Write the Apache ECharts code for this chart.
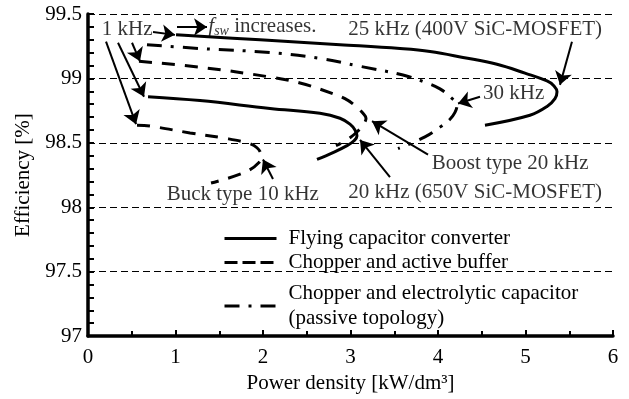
<!DOCTYPE html>
<html>
<head>
<meta charset="utf-8">
<script src="https://cdn.jsdelivr.net/npm/echarts@6/dist/echarts.min.js"></script>
<style>
html,body{margin:0;padding:0;background:#fff;}
#chart{width:629px;height:399px;}
</style>
</head>
<body>
<div id="chart"></div>
<script>
// ---- Data (x: power density kW/dm3, y: efficiency %) ----
const xTickLabels = ['0','1','2','3','4','5','6'];
const yTickLabels = ['97','97.5','98','98.5','99','99.5'];

const fc400X = [1.006,1.966,2.88,3.566,3.909,4.286,4.674,4.994,5.246,5.326,5.36,5.337,5.246,5.051,4.537];
const fc400Y = [99.338,99.30,99.262,99.232,99.209,99.163,99.11,99.041,98.98,98.942,98.896,98.843,98.782,98.714,98.637];

const fc650X = [0.686,1.28,2.08,2.651,2.88,2.994,3.051,3.074,3.04,2.96,2.8,2.617];
const fc650Y = [98.858,98.828,98.767,98.729,98.691,98.645,98.60,98.554,98.516,98.478,98.424,98.371];

const boostX = [0.583,1.28,2.08,2.423,2.8,2.937,3.051,3.143,3.177,3.143,3.086,2.96,2.834];
const boostY = [99.133,99.087,99.011,98.965,98.881,98.843,98.79,98.729,98.691,98.637,98.592,98.523,98.478];

const buckX = [0.56,0.709,1.166,1.543,1.817,1.931,1.977,1.954,1.794,1.406];
const buckY = [98.637,98.63,98.577,98.538,98.50,98.462,98.401,98.348,98.272,98.188];

const passiveX = [0.674,1.28,2.08,2.651,3.109,3.6,3.874,4.023,4.137,4.217,4.194,4.137,4.023,3.851,3.543];
const passiveY = [99.262,99.232,99.201,99.155,99.094,99.026,98.965,98.919,98.858,98.79,98.736,98.683,98.622,98.546,98.455];

const nameFC = 'Flying capacitor converter';
const nameAB = 'Chopper and active buffer';
const namePS = 'Chopper and electrolytic capacitor (passive topology)';

// annotation texts (left edge x, middle y in data units)
const noteTexts = ['1 kHz','fsw','25 kHz (400V SiC-MOSFET)','30 kHz','Boost type 20 kHz','20 kHz (650V SiC-MOSFET)','Buck type 10 kHz'];
const noteX = [0.157,1.375,2.975,4.514,3.928,2.975,0.899];
const noteY = [99.376,99.405,99.376,98.88,98.34,98.115,98.097];

// arrows: from (x1,y1) to (x2,y2) in data units
const arrowX1 = [0.743,1.017,0.206,0.343,0.503,5.531,4.48,3.886,3.451,2.114];
const arrowY1 = [99.361,99.399,99.285,99.277,99.277,99.285,98.858,98.409,98.234,98.219];
const arrowX2 = [0.994,1.36,0.549,0.64,0.594,5.394,4.229,3.246,3.109,2.0];
const arrowY2 = [99.338,99.399,98.645,98.858,99.133,98.95,98.805,98.668,98.523,98.371];

// ---- Build ----
const FONT = "'Liberation Serif', 'Times New Roman', serif";
const FS = 21;
const zip = (xs, ys) => xs.map((x, i) => [x, ys[i]]);
const dashAB = [13, 10];
const dashPS = [15, 9, 3, 9];

function curve(name, xs, ys, type) {
  return {
    name: name, type: 'line', data: zip(xs, ys), smooth: 0.4,
    symbol: 'none', showSymbol: false, silent: true, z: 3,
    lineStyle: { color: '#000', width: 3, type: type },
    itemStyle: { color: '#000' }
  };
}

const chart = echarts.init(document.getElementById('chart'), null, { renderer: 'canvas' });

const noteData = noteTexts.map((t, i) => {
  const item = { value: [noteX[i], noteY[i]], name: t };
  if (t === 'fsw') {
    item.label = { formatter: '{i|f}{s|sw}{n| increases.}' };
  }
  return item;
});

const arrowData = arrowX1.map((x, i) => ({ coords: [[x, arrowY1[i]], [arrowX2[i], arrowY2[i]]] }));

const legendBase = {
  orient: 'vertical', left: 218, itemWidth: 52, itemHeight: 14,
  selectedMode: false,
  itemStyle: { opacity: 0, color: 'transparent', borderColor: 'transparent', borderWidth: 0 },
  lineStyle: { width: 3, color: '#000' },
  textStyle: { fontFamily: FONT, fontSize: FS, color: '#000', lineHeight: 25, padding: [0, 0, 0, 7] }
};

chart.setOption({
  animation: false,
  backgroundColor: '#fff',
  textStyle: { fontFamily: FONT, color: '#000' },
  grid: { left: 88, right: 16, top: 14, bottom: 57, containLabel: false },
  xAxis: {
    type: 'value', min: 0, max: 6, interval: 1,
    name: 'Power density [kW/dm³]', nameLocation: 'middle', nameGap: 36,
    nameTextStyle: { fontFamily: FONT, fontSize: FS, color: '#000' },
    axisLine: { onZero: false, lineStyle: { color: '#000', width: 3.5 } },
    axisTick: { inside: true, length: 6, lineStyle: { color: '#000', width: 2 } },
    minorTick: { show: true, splitNumber: 2, length: 5, lineStyle: { color: '#000', width: 2 } },
    axisLabel: { margin: 11, fontFamily: FONT, fontSize: FS, color: '#000',
      formatter: v => xTickLabels[Math.round(v)] },
    splitLine: { show: false }
  },
  yAxis: {
    type: 'value', min: 97, max: 99.5, interval: 0.5,
    name: 'Efficiency [%]', nameLocation: 'middle', nameGap: 41,
    nameTextStyle: { fontFamily: FONT, fontSize: FS, color: '#000' },
    axisLine: { show: true, onZero: false, lineStyle: { color: '#000', width: 3.5 } },
    axisTick: { inside: true, length: 6, lineStyle: { color: '#000', width: 2 } },
    minorTick: { show: true, splitNumber: 5, length: 6, lineStyle: { color: '#000', width: 2 } },
    axisLabel: { margin: 6, fontFamily: FONT, fontSize: FS, color: '#000',
      formatter: v => yTickLabels[Math.round((v - 97) / 0.5)] },
    splitLine: { show: true, lineStyle: { color: '#000', width: 1, type: [7, 4] } }
  },
  legend: [
    Object.assign({}, legendBase, { top: 221, data: [nameFC] }),
    Object.assign({}, legendBase, { top: 245, data: [nameAB], lineStyle: { width: 3, color: '#000', type: [13, 5] } }),
    Object.assign({}, legendBase, { top: 276, data: [namePS],
      formatter: n => n.replace(' (', '\n(') })
  ],
  series: [
    curve(nameFC, fc400X, fc400Y, 'solid'),
    curve(nameFC, fc650X, fc650Y, 'solid'),
    curve(nameAB, boostX, boostY, dashAB),
    curve(nameAB, buckX, buckY, dashAB),
    curve(namePS, passiveX, passiveY, dashPS),
    {
      name: 'notes', type: 'scatter', data: noteData, symbolSize: 0, silent: true, z: 5,
      itemStyle: { color: 'transparent' },
      label: {
        show: true, position: [0, 0], align: 'left', verticalAlign: 'middle',
        formatter: '{b}', fontFamily: FONT, fontSize: FS, color: '#000',
        rich: {
          i: { fontFamily: FONT, fontSize: FS, fontStyle: 'italic', color: '#000' },
          s: { fontFamily: FONT, fontSize: 14, fontStyle: 'italic', color: '#000', padding: [10, 0, 0, 0] },
          n: { fontFamily: FONT, fontSize: FS, color: '#000' }
        }
      }
    },
    {
      name: 'arrows', type: 'lines', coordinateSystem: 'cartesian2d', data: arrowData,
      silent: true, z: 6,
      symbol: ['none', 'arrow'], symbolSize: [9, 13],
      lineStyle: { color: '#000', width: 2, opacity: 1, curveness: 0 },
      effect: { show: false }
    }
  ]
});
</script>
</body>
</html>
